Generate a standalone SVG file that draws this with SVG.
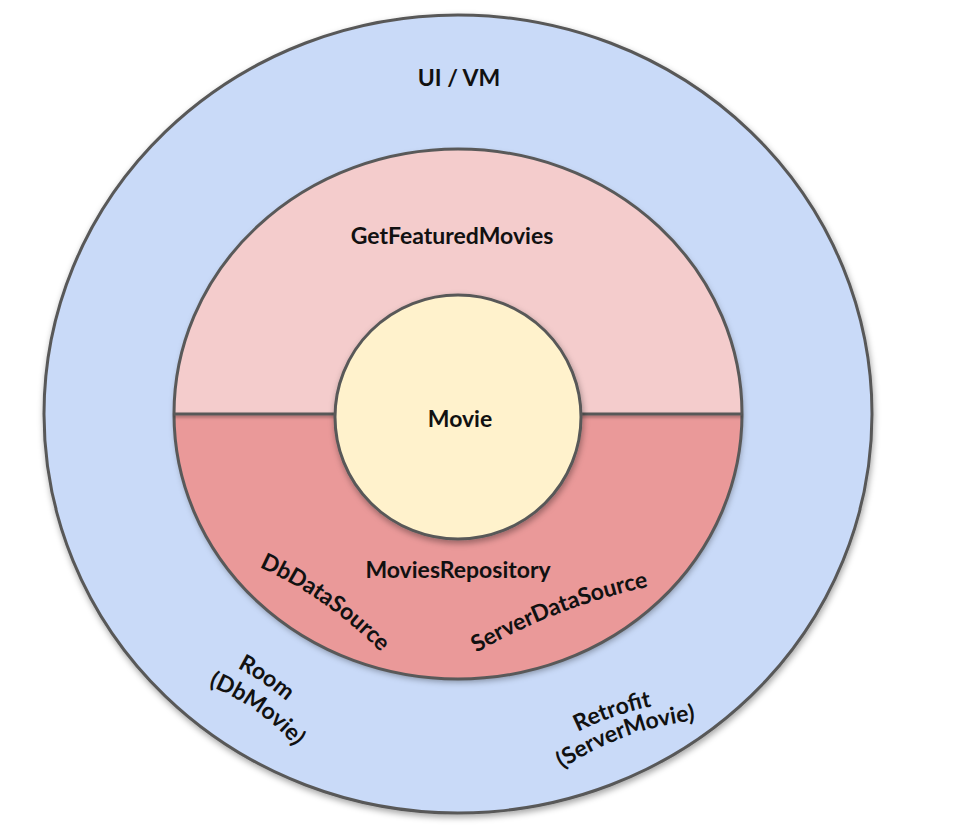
<svg xmlns="http://www.w3.org/2000/svg" width="968" height="835" viewBox="0 0 968 835">
<defs>
<filter id="sh" x="-10%" y="-10%" width="120%" height="125%">
<feDropShadow dx="1" dy="3" stdDeviation="3" flood-color="#000" flood-opacity="0.35"/>
</filter>
<filter id="shl" filterUnits="userSpaceOnUse" x="160" y="400" width="600" height="30">
<feDropShadow dx="0" dy="2" stdDeviation="1.5" flood-color="#000" flood-opacity="0.3"/>
</filter>
<path id="pDb" d="M188.0,542.8 A400,400 0 0,1 428.1,710.9"/>
<path id="pSrv" d="M412.0,695.5 A600,600 0 0,1 725.1,575.3"/>
<path id="pRoom" d="M190.7,649.6 A250,250 0 0,1 321.1,737.5"/>
<path id="pDbM" d="M163.7,673.8 A220,220 0 0,1 321.9,784.6"/>
<path id="pRet" d="M542.4,751.9 A320,320 0 0,1 692.1,700.4"/>
<path id="pSrvM" d="M531.7,792.1 A300,300 0 0,1 733.9,718.6"/>
</defs>
<style>
.ring{stroke:#595959;stroke-width:3}
.t{font-family:Lato,"Liberation Sans",sans-serif;font-weight:bold;font-size:23px;fill:#111}
.c{text-anchor:middle}
</style>
<rect width="968" height="835" fill="#ffffff"/>
<g id="ui-vm">
<ellipse class="ring" cx="458" cy="414" rx="414" ry="399" fill="#c9daf8" filter="url(#sh)"/>
<text class="t c" x="459" y="86">UI / VM</text>
<text class="t c"><textPath href="#pRoom" startOffset="50%">Room</textPath></text>
<text class="t c"><textPath href="#pDbM" startOffset="50%">(DbMovie)</textPath></text>
<text class="t c"><textPath href="#pRet" startOffset="50%">Retrofit</textPath></text>
<text class="t c"><textPath href="#pSrvM" startOffset="50%">(ServerMovie)</textPath></text>
</g>
<g id="use-cases">
<ellipse cx="458" cy="414" rx="284" ry="265" fill="#f4cccc" filter="url(#sh)"/>
<path d="M174,414 A284,265 0 0,0 742,414 Z" fill="#ea9999"/>
<ellipse class="ring" cx="458" cy="414" rx="284" ry="265" fill="none"/>
<line class="ring" x1="174" y1="414" x2="742" y2="414" filter="url(#shl)"/>
<text class="t c" x="452" y="244">GetFeaturedMovies</text>
</g>
<g id="repository">
<text class="t c" x="458" y="578">MoviesRepository</text>
<text class="t c"><textPath href="#pDb" startOffset="50%">DbDataSource</textPath></text>
<text class="t c"><textPath href="#pSrv" startOffset="50%">ServerDataSource</textPath></text>
</g>
<g id="movie">
<ellipse class="ring" cx="458" cy="417" rx="123" ry="122" fill="#fff2cc" filter="url(#sh)"/>
<text class="t c" x="460" y="427">Movie</text>
</g>
<g id="connectors"/>
</svg>
